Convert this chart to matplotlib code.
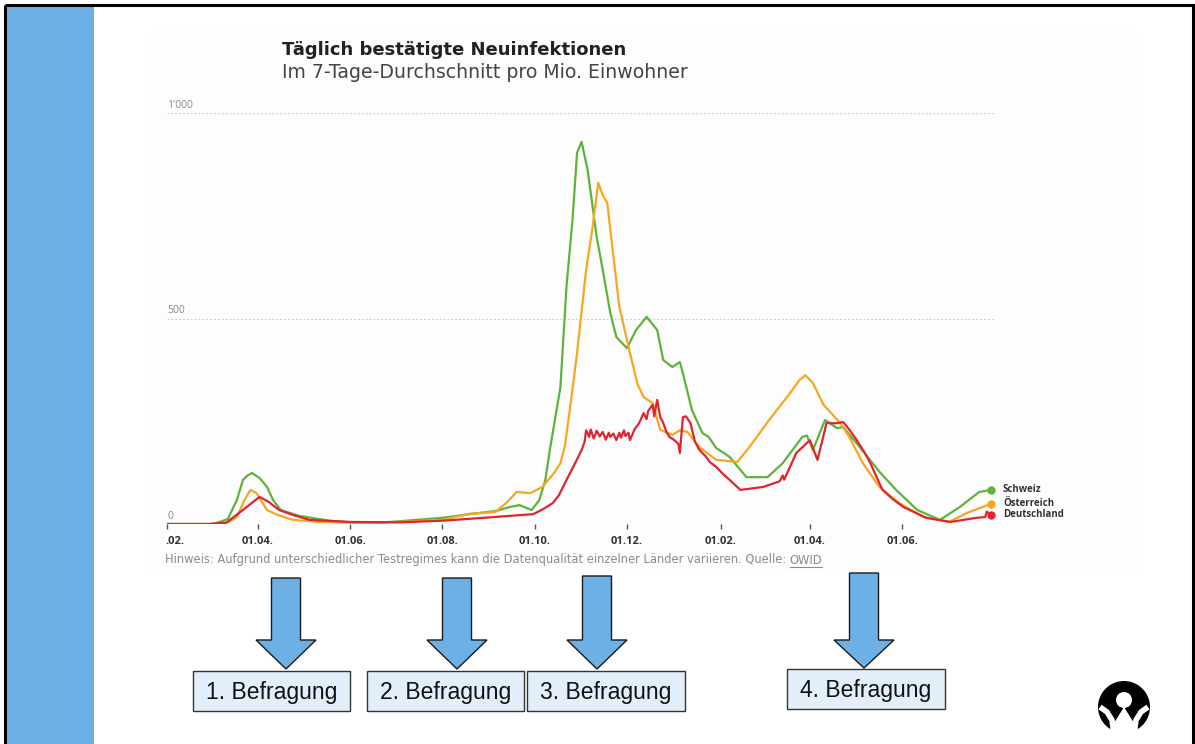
import numpy as np
import pandas as pd
import matplotlib
matplotlib.use("Agg")
import matplotlib.pyplot as plt
import matplotlib.dates as mdates
import matplotlib.transforms as mtransforms
from matplotlib.patches import Rectangle, Polygon, Circle, Wedge

# Daily confirmed new infections, 7-day average per million inhabitants
dates_ch = ['2020-02-01', '2020-02-29', '2020-03-05', '2020-03-12', '2020-03-18', '2020-03-22',
            '2020-03-25', '2020-03-28', '2020-04-02', '2020-04-07', '2020-04-11', '2020-04-16',
            '2020-04-28', '2020-05-18', '2020-06-01', '2020-06-20', '2020-07-08', '2020-08-01',
            '2020-08-19', '2020-09-06', '2020-09-14', '2020-09-21', '2020-09-29', '2020-10-04',
            '2020-10-08', '2020-10-11', '2020-10-18', '2020-10-22', '2020-10-26', '2020-10-29',
            '2020-11-01', '2020-11-05', '2020-11-11', '2020-11-15', '2020-11-20', '2020-11-24',
            '2020-12-01', '2020-12-07', '2020-12-14', '2020-12-21', '2020-12-25', '2020-12-31',
            '2021-01-05', '2021-01-07', '2021-01-13', '2021-01-20', '2021-01-24', '2021-01-29',
            '2021-02-07', '2021-02-18', '2021-03-04', '2021-03-14', '2021-03-27', '2021-03-30',
            '2021-04-03', '2021-04-11', '2021-04-19', '2021-04-23', '2021-05-04', '2021-05-17',
            '2021-05-28', '2021-06-11', '2021-06-26', '2021-07-09', '2021-07-22', '2021-07-30']
schweiz = [0, 0, 3, 12, 58, 107,
           118, 124, 112, 90, 58, 34,
           20, 8, 4, 3, 8, 15,
           24, 32, 41, 46, 34, 58,
           107, 180, 333, 577, 740, 903,
           930, 861, 698, 618, 513, 455,
           428, 472, 504, 472, 399, 382,
           394, 367, 277, 221, 212, 185,
           163, 114, 114, 148, 212, 215,
           180, 253, 233, 236, 187, 127,
           83, 34, 10, 41, 78, 83]

dates_at = ['2020-02-01', '2020-03-07', '2020-03-13', '2020-03-18', '2020-03-23', '2020-03-27',
            '2020-03-31', '2020-04-04', '2020-04-07', '2020-04-14', '2020-04-24', '2020-05-12',
            '2020-06-01', '2020-07-04', '2020-08-01', '2020-08-19', '2020-09-05', '2020-09-13',
            '2020-09-19', '2020-09-28', '2020-10-06', '2020-10-14', '2020-10-18', '2020-10-21',
            '2020-10-25', '2020-10-29', '2020-11-04', '2020-11-08', '2020-11-12', '2020-11-15',
            '2020-11-18', '2020-11-21', '2020-11-26', '2020-12-03', '2020-12-08', '2020-12-12',
            '2020-12-18', '2020-12-23', '2020-12-31', '2021-01-05', '2021-01-10', '2021-01-18',
            '2021-01-29', '2021-02-12', '2021-02-20', '2021-03-05', '2021-03-19', '2021-03-25',
            '2021-03-29', '2021-04-03', '2021-04-10', '2021-04-21', '2021-04-27', '2021-05-06',
            '2021-05-17', '2021-05-30', '2021-06-15', '2021-07-02', '2021-07-14', '2021-07-24',
            '2021-07-30']
oesterreich = [0, 0, 6, 17, 58, 83,
               75, 51, 34, 22, 10, 5,
               3, 5, 10, 25, 29, 54,
               78, 75, 90, 125, 148, 190,
               300, 416, 618, 715, 830, 800,
               781, 684, 528, 416, 340, 309,
               294, 229, 217, 228, 224, 187,
               156, 151, 187, 253, 319, 350,
               362, 343, 290, 246, 212, 148,
               90, 51, 17, 5, 27, 41,
               49]

dates_de = ['2020-02-01', '2020-03-01', '2020-03-11', '2020-03-22', '2020-04-02', '2020-04-08',
            '2020-04-15', '2020-04-24', '2020-05-05', '2020-06-01', '2020-07-04', '2020-08-01',
            '2020-08-28', '2020-09-30', '2020-10-06', '2020-10-13', '2020-10-17', '2020-10-22',
            '2020-10-28', '2020-11-01', '2020-11-03', '2020-11-04', '2020-11-06', '2020-11-07',
            '2020-11-09', '2020-11-11', '2020-11-13', '2020-11-15', '2020-11-17', '2020-11-19',
            '2020-11-20', '2020-11-22', '2020-11-24', '2020-11-26', '2020-11-27', '2020-11-29',
            '2020-11-30', '2020-12-02', '2020-12-03', '2020-12-06', '2020-12-09', '2020-12-12',
            '2020-12-14', '2020-12-15', '2020-12-18', '2020-12-19', '2020-12-21', '2020-12-23',
            '2020-12-25', '2020-12-27', '2020-12-29', '2021-01-01', '2021-01-04', '2021-01-05',
            '2021-01-07', '2021-01-09', '2021-01-12', '2021-01-15', '2021-01-18', '2021-01-22',
            '2021-01-25', '2021-01-29', '2021-02-03', '2021-02-07', '2021-02-14', '2021-03-01',
            '2021-03-12', '2021-03-14', '2021-03-15', '2021-03-19', '2021-03-23', '2021-03-28',
            '2021-04-01', '2021-04-06', '2021-04-09', '2021-04-12', '2021-04-18', '2021-04-23',
            '2021-04-27', '2021-05-02', '2021-05-07', '2021-05-11', '2021-05-15', '2021-05-19',
            '2021-05-26', '2021-06-02', '2021-06-17', '2021-07-03', '2021-07-20', '2021-07-26',
            '2021-07-27', '2021-07-30']
deutschland = [0, 0, 3, 34, 66, 54,
               34, 22, 10, 5, 4, 8,
               15, 24, 35, 51, 70, 107,
               150, 180, 200, 228, 212, 230,
               208, 227, 213, 224, 205, 222,
               212, 220, 204, 222, 210, 228,
               214, 222, 204, 230, 245, 270,
               255, 275, 290, 262, 302, 260,
               246, 225, 212, 205, 195, 173,
               260, 262, 246, 200, 180, 165,
               150, 139, 120, 107, 83, 90,
               104, 118, 108, 140, 173, 190,
               204, 156, 200, 246, 245, 248,
               230, 204, 175, 148, 115, 83,
               60, 41, 15, 5, 15, 17,
               30, 22]

series_names = ['Schweiz', 'Österreich', 'Deutschland']
series_colors = ['#5fb23a', '#f6a623', '#de2630']

tick_dates = ['2020-02-01', '2020-04-01', '2020-06-01', '2020-08-01', '2020-10-01',
              '2020-12-01', '2021-02-01', '2021-04-01', '2021-06-01']
tick_labels = ['.02.', '01.04.', '01.06.', '01.08.', '01.10.', '01.12.', '01.02.', '01.04.', '01.06.']
y_ticks = [0, 500, 1000]
y_labels = ['0', '500', "1'000"]

W, H = 1195, 744
fig = plt.figure(figsize=(W / 100, H / 100), dpi=100)
fig.patch.set_facecolor('white')

# background layer in pixel coordinates
bg = fig.add_axes([0, 0, 1, 1])
bg.set_xlim(0, W)
bg.set_ylim(H, 0)
bg.axis('off')
bg.add_patch(Rectangle((150, 30), 988, 543, facecolor='#fdfdfd', edgecolor='none'))
bg.add_patch(Rectangle((7, 7), 87, H, facecolor='#6cb0e6', edgecolor='none'))
bg.add_patch(Rectangle((5, 5), W - 7, H + 20, facecolor='none', edgecolor='black', lw=2.2))

# chart axes
x0 = pd.Timestamp('2020-02-01')
ndays = 548
ax = fig.add_axes([167.3 / W, (H - 524) / H, ndays * 1.512 / W, 411 / H])
ax.set_facecolor('none')
ax.set_xlim(mdates.date2num(x0), mdates.date2num(x0 + pd.Timedelta(days=ndays)))
ax.set_ylim(0, 1000)
for s in ax.spines.values():
    s.set_visible(False)

for yv in y_ticks:
    ax.axhline(yv, color='#c8c8c8', lw=0.8, ls=(0, (1.5, 2)), zorder=1)
ax.set_yticks([])

ylab_trans = mtransforms.offset_copy(ax.transData, fig=fig, x=0, y=1.5, units='points')
for yv, lab in zip(y_ticks, y_labels):
    ax.text(mdates.date2num(x0), yv, lab, transform=ylab_trans, fontsize=7.5,
            color='#8a8a8a', family='Open Sans', ha='left', va='bottom')

tick_nums = mdates.date2num(pd.to_datetime(tick_dates))
ax.set_xticks(tick_nums)
ax.set_xticklabels([])
ax.tick_params(axis='x', length=3.5, width=1, color='#555555', direction='out', pad=2)
xlab_trans = mtransforms.blended_transform_factory(ax.transData, ax.transAxes)
for i, (t, lab) in enumerate(zip(tick_nums, tick_labels)):
    ax.text(t - (0 if i else 1.5), -0.028, lab, transform=xlab_trans, fontsize=8,
            fontweight='bold', color='#333333', family='Open Sans',
            ha='left' if i == 0 else 'center', va='top')

all_dates = [dates_ch, dates_at, dates_de]
all_values = [schweiz, oesterreich, deutschland]
lab_trans = mtransforms.blended_transform_factory(fig.transFigure, ax.transData)
label_offsets = [0, 2, 0]
for name, col, d, v, off in zip(series_names, series_colors, all_dates, all_values, label_offsets):
    dn = mdates.date2num(pd.to_datetime(d))
    ax.plot(dn, v, color=col, lw=1.6, zorder=3, solid_joinstyle='round')
    ax.plot(dn[-1], v[-1], 'o', color=col, ms=5, zorder=4)
    ax.text(1003 / W, v[-1] + off, name, transform=lab_trans, fontsize=7,
            fontweight='bold', color='#333333', family='Open Sans', va='center', ha='left')

# titles
bg.text(282, 50, 'Täglich bestätigte Neuinfektionen', fontsize=13, fontweight='bold',
        color='#222222', family='DejaVu Sans', ha='left', va='center')
bg.text(282, 73, 'Im 7-Tage-Durchschnitt pro Mio. Einwohner', fontsize=13.6,
        color='#444444', family='DejaVu Sans', ha='left', va='center')

# note with underlined source
note = bg.text(165, 560, 'Hinweis: Aufgrund unterschiedlicher Testregimes kann die Datenqualität '
               'einzelner Länder variieren. Quelle: ', fontsize=8.3, color='#8c8c8c',
               family='DejaVu Sans', ha='left', va='center')
fig.canvas.draw()
r = fig.canvas.get_renderer()
bb = note.get_window_extent(r)
nx = bb.x1
src = bg.text(nx, 560, 'OWID', fontsize=8.3, color='#8c8c8c', family='DejaVu Sans',
              ha='left', va='center')
bb2 = src.get_window_extent(r)
bg.plot([bb2.x0, bb2.x1], [567, 567], color='#8c8c8c', lw=0.8)

# arrows and boxes
arrows = [(286, 578, 669), (457, 578, 669), (597, 576, 669), (864, 573, 668)]
for cx, top, tip in arrows:
    head = 640
    pts = [(cx - 14.5, top), (cx + 14.5, top), (cx + 14.5, head), (cx + 30, head),
           (cx, tip), (cx - 30, head), (cx - 14.5, head)]
    bg.add_patch(Polygon(pts, closed=True, facecolor='#6cb0e6', edgecolor='#1a1a1a', lw=1))

boxes = [(193, 671, 157, 40, '1. Befragung'), (367, 671, 157, 40, '2. Befragung'),
         (527, 671, 158, 40, '3. Befragung'), (787, 669, 158, 40, '4. Befragung')]
for bx, by, bw, bh, lab in boxes:
    bg.add_patch(Rectangle((bx, by), bw, bh, facecolor='#e2effb', edgecolor='#333333', lw=1))
    bg.text(bx + bw / 2, by + bh / 2 + 1, lab, fontsize=16.5, family='Liberation Sans',
            color='#111111', ha='center', va='center')

# logo
lc = (1124, 707)
bg.add_patch(Wedge(lc, 26, 122, 58, facecolor='black', edgecolor='none'))
bg.add_patch(Circle((1124, 700), 8, facecolor='white', edgecolor='none'))
bg.plot([1100, 1107, 1112, 1114], [707, 712, 720, 735], color='white', lw=4,
        solid_capstyle='butt')
bg.plot([1148, 1141, 1136, 1134], [707, 712, 720, 735], color='white', lw=4,
        solid_capstyle='butt')

fig.savefig('out.png', dpi=100)
